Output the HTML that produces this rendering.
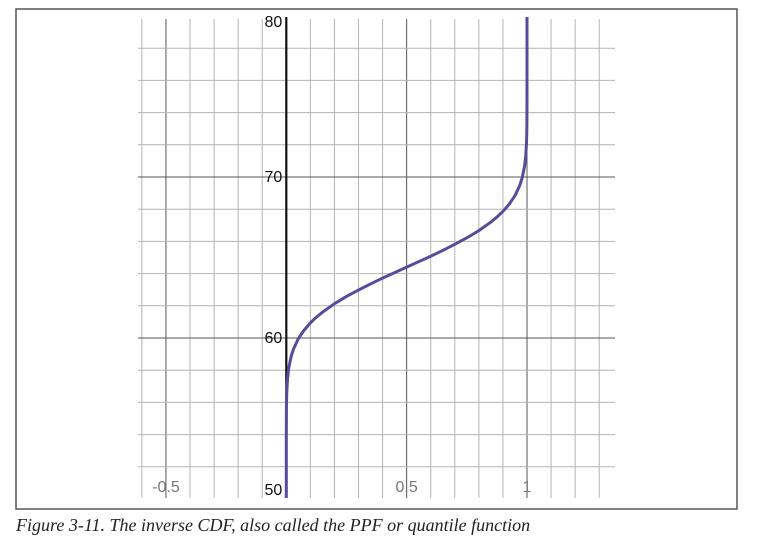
<!DOCTYPE html>
<html><head><meta charset="utf-8"><style>
body{margin:0;background:#fff;width:757px;height:553px;overflow:hidden;font-family:"Liberation Sans",sans-serif}
#cap{position:absolute;left:16px;top:515px;font-family:"Liberation Serif",serif;font-style:italic;font-size:18px;color:#222;white-space:nowrap}
</style></head><body>
<svg id="chart" width="757" height="553" style="position:absolute;left:0;top:0">
<rect x="16" y="9" width="721" height="500" fill="none" stroke="#555" stroke-width="1.5"/>
<g id="grid"></g><g id="labels"></g><g id="series"></g>
</svg>
<div id="cap">Figure 3-11. The inverse CDF, also called the PPF or quantile function</div>
<script>
const probs = [0,0.00001,0.0001,0.0005,0.001,0.002,0.005,0.01,0.02,0.03,0.05,0.07,0.1,0.12,0.15,0.2,0.25,0.3,0.35,0.4,0.45,0.5,0.55,0.6,0.65,0.7,0.75,0.8,0.85,0.875,0.9,0.925,0.95,0.97,0.98,0.99,0.995,0.998,0.999,0.9995,0.9999,0.99999,1];
const values = [40,52.9,54.4,55.52,56.06,56.63,57.44,58.12,58.85,59.32,59.96,60.41,60.94,61.23,61.6,62.13,62.58,62.98,63.36,63.72,64.06,64.4,64.74,65.08,65.44,65.82,66.22,66.67,67.2,67.51,67.86,68.29,68.84,69.48,69.95,70.68,71.36,72.17,72.74,73.28,74.4,75.9,90];
const xTicks = [-0.5,0.5,1];
const xTickLabels = ["-0.5","0.5","1"];
const yTicks = [80,70,60,50];
const yTickLabels = ["80","70","60","50"];
const NS="http://www.w3.org/2000/svg";
const X=v=>286.3+v*240.7, Y=v=>177-(v-70)*16.1;
const gTop=19,gBot=498,gLeft=138,gRight=615;
const grid=document.getElementById('grid'),lab=document.getElementById('labels'),ser=document.getElementById('series');
function mk(t,a,p){const e=document.createElementNS(NS,t);for(const k in a)e.setAttribute(k,a[k]);p.appendChild(e);return e;}
for(let i=-6;i<=13;i++){const v=i/10;if(i===0)continue;const maj=i%5===0;
 const l=mk('line',{x1:X(v),x2:X(v),y1:gTop,y2:gBot,stroke:maj?'#555':'#b4b4b4','stroke-width':1},grid);
 
 }
for(let v=50;v<=80;v+=2){const y=Y(v);if(y>gBot||y<gTop)continue;const maj=v%10===0;
 const l=mk('line',{x1:gLeft,x2:gRight,y1:y,y2:y,stroke:maj?'#555':'#b4b4b4','stroke-width':1},grid);
 
 }
const ax=mk('line',{x1:X(0),x2:X(0),y1:17,y2:gBot,stroke:'#111','stroke-width':2.2},grid);


xTicks.forEach((v,i)=>{const t=mk('text',{x:X(v),y:492,'text-anchor':'middle','font-size':16,fill:'#777'},lab);t.textContent=xTickLabels[i];
 
 });
yTicks.forEach((v,i)=>{const y=Math.min(Y(v),490);const t=mk('text',{x:X(0)-4,y:y+5+(v===80?6:0),'text-anchor':'end','font-size':16,fill:'#111'},lab);t.textContent=yTickLabels[i];
 
 });
let d='';probs.forEach((p,i)=>{let y=Math.max(gTop-2,Math.min(gBot,Y(values[i])));d+=(i?'L':'M')+X(p).toFixed(2)+','+y.toFixed(2);});
const path=mk('path',{d:d,fill:'none',stroke:'#5a4a9c','stroke-width':3,'stroke-linejoin':'round'},ser);


</script>
</body></html>
